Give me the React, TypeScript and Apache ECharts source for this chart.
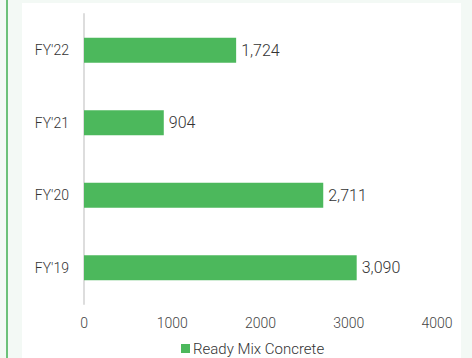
import React, { useEffect, useRef } from "react";
import * as echarts from "echarts";

const categories = ["FY'19", "FY'20", "FY'21", "FY'22"];
const readyMixConcrete = [3090, 2711, 904, 1724];
const seriesName = "Ready Mix Concrete";
const xTicks = { min: 0, max: 4000, interval: 1000 };

const fmt = (v: number) => v.toLocaleString("en-US");

export default function App() {
  const ref = useRef<HTMLDivElement>(null);

  useEffect(() => {
    if (!ref.current) return;
    const chart = echarts.init(ref.current, undefined, { renderer: "svg" });
    chart.setOption({
      animation: false,
      backgroundColor: "#f3f9f5",
      textStyle: { fontFamily: "Roboto" },
      graphic: [
        {
          type: "rect",
          z: -10,
          shape: { x: 22, y: 3, width: 439, height: 360 },
          style: { fill: "#ffffff" },
          silent: true,
        },
        {
          type: "rect",
          z: -10,
          shape: { x: 6, y: 0, width: 2, height: 358 },
          style: { fill: "#6cc17a" },
          silent: true,
        },
      ],
      grid: { left: 84, right: 35, top: 14, bottom: 54, containLabel: false },
      legend: {
        data: [seriesName],
        left: 176,
        top: 336,
        icon: "rect",
        itemWidth: 9,
        itemHeight: 9,
        itemGap: 4,
        textStyle: {
          fontFamily: "Roboto",
          fontWeight: 300,
          fontSize: 15,
          color: "#333333",
          padding: [0, 0, 0, -2],
        },
      },
      xAxis: {
        type: "value",
        min: xTicks.min,
        max: xTicks.max,
        interval: xTicks.interval,
        axisLine: { show: false },
        axisTick: { show: false },
        splitLine: { show: false },
        axisLabel: {
          formatter: (v: number) => String(v),
          fontFamily: "Roboto",
          fontWeight: 300,
          fontSize: 14,
          color: "#444444",
          margin: 12,
        },
      },
      yAxis: {
        type: "category",
        data: categories,
        axisLine: { show: true, lineStyle: { color: "#dddddd", width: 2 } },
        axisTick: { show: false },
        axisLabel: {
          fontFamily: "Roboto",
          fontWeight: 300,
          fontSize: 14,
          color: "#333333",
          margin: 15,
        },
      },
      series: [
        {
          name: seriesName,
          type: "bar",
          data: readyMixConcrete,
          barWidth: 25,
          itemStyle: { color: "#4cb85c" },
          label: {
            show: true,
            position: "right",
            distance: 5,
            formatter: (p: any) => fmt(p.value),
            fontFamily: "Roboto",
            fontWeight: 300,
            fontSize: 16,
            color: "#333333",
          },
        },
      ],
    });
    return () => chart.dispose();
  }, []);

  return (
    <div
      ref={ref}
      style={{ position: "fixed", left: 0, top: 0, width: 472, height: 358 }}
    />
  );
}
